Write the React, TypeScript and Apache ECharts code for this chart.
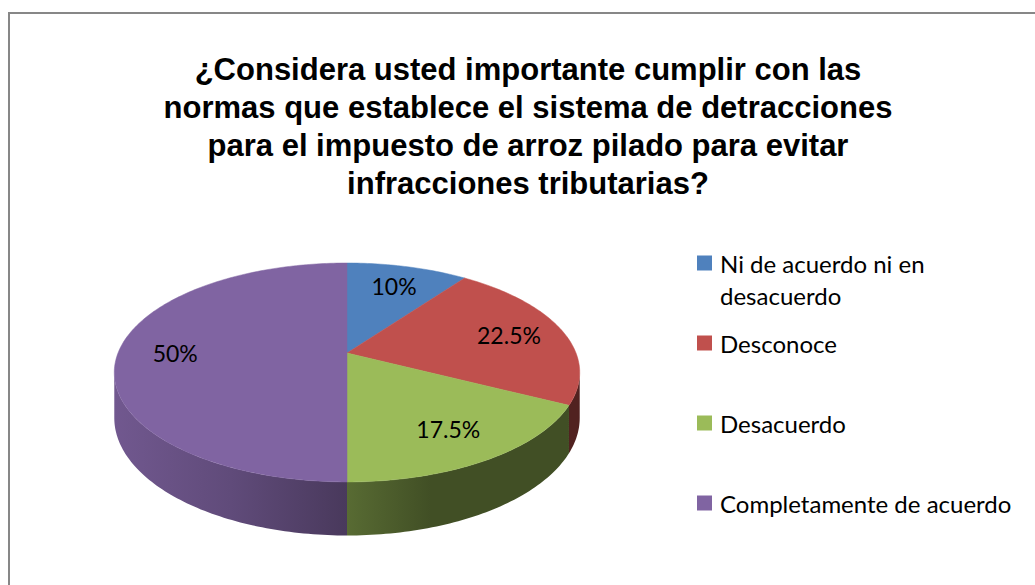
import React, { useEffect, useRef } from "react";
import * as echarts from "echarts";

const categories = [
  "Ni de acuerdo ni en desacuerdo",
  "Desconoce",
  "Desacuerdo",
  "Completamente de acuerdo",
];
const legendLabels = [
  " \nNi de acuerdo ni en\ndesacuerdo",
  "Desconoce",
  "Desacuerdo",
  "Completamente de acuerdo",
];
const values = [10, 22.5, 17.5, 50];
const colors = ["#4F81BD", "#C0504D", "#9BBB59", "#8064A2"];
const titleLines = [
  "¿Considera usted importante cumplir con las",
  "normas que establece el sistema de detracciones",
  "para el impuesto de arroz pilado para evitar",
  "infracciones tributarias?",
];

// 3D pie geometry (layout)
const CX = 347;
const CY = 353;
const RX = 229;
const RY = 106;
const K = 0.178;
const DEPTH = 44;
const LABEL_F = 0.75;

function proj(theta: number, f: number, h: number): number[] {
  const u = Math.sin(theta) * f;
  const v = Math.cos(theta) * f;
  const s = 1 / (1 + K * v);
  return [CX + RX * u * s, CY - RY * v * s + h * s];
}

function shade(hex: string, k: number): string {
  const n = parseInt(hex.slice(1), 16);
  const r = Math.round(((n >> 16) & 255) * k);
  const g = Math.round(((n >> 8) & 255) * k);
  const b = Math.round((n & 255) * k);
  return `rgb(${r},${g},${b})`;
}

const total = values.reduce((a, b) => a + b, 0);

function arcPoints(a0: number, a1: number, h: number): number[][] {
  const pts: number[][] = [];
  const steps = Math.max(2, Math.ceil(((a1 - a0) * 180) / Math.PI));
  for (let j = 0; j <= steps; j++) {
    const t = a0 + ((a1 - a0) * j) / steps;
    pts.push(proj(t, 1, h));
  }
  return pts;
}

function makeRenderItem(idx: number) {
  return (params: any, api: any) => {
    const val = api.value(0);
    let before = 0;
    for (let j = 0; j < idx; j++) before += values[j];
    const a0 = (before / total) * Math.PI * 2;
    const a1 = a0 + (val / total) * Math.PI * 2;
    const color = colors[idx];
    const children: any[] = [];

    const visA = Math.acos(-K);
    const visB = Math.PI * 2 - visA;
    const s0 = Math.max(a0, visA);
    const s1 = Math.min(a1, visB);
    if (s1 > s0) {
      const top = arcPoints(s0, s1, 0);
      const bottom = arcPoints(s0, s1, DEPTH).reverse();
      const xL = CX - RX * 1.016;
      const xR = CX + RX * 1.016;
      children.push({
        type: "polygon",
        shape: { points: top.concat(bottom) },
        style: {
          fill: {
            type: "linear",
            global: true,
            x: xL,
            y: 0,
            x2: xR,
            y2: 0,
            colorStops: [
              { offset: 0, color: shade(color, 0.88) },
              { offset: 0.25, color: shade(color, 0.75) },
              { offset: 0.5, color: shade(color, 0.57) },
              { offset: 0.68, color: shade(color, 0.42) },
              { offset: 1, color: shade(color, 0.42) },
            ],
          },
          stroke: null,
        },
      });
    }

    const topPts = [[CX, CY]].concat(arcPoints(a0, a1, 0));
    children.push({
      type: "polygon",
      shape: { points: topPts },
      style: { fill: color, stroke: color, lineWidth: 0.5 },
    });

    const mid = (a0 + a1) / 2;
    const lp = proj(mid, LABEL_F, 0);
    children.push({
      type: "text",
      x: lp[0],
      y: lp[1],
      style: {
        text: `${val}%`,
        fill: "#000",
        font: "23px Lato",
        align: "center",
        verticalAlign: "middle",
      },
      z2: 10,
    });
    return { type: "group", children };
  };
}

export default function App() {
  const ref = useRef<HTMLDivElement>(null);
  useEffect(() => {
    if (!ref.current) return;
    const chart = echarts.init(ref.current, undefined, { renderer: "svg" });
    const legendTops = [215, 327, 407, 487];
    const option: any = {
      animation: false,
      backgroundColor: "#fff",
      title: {
        text: titleLines.join("\n"),
        left: 528,
        top: 50,
        padding: 0,
        textAlign: "center",
        textStyle: {
          fontFamily: "Liberation Sans",
          fontWeight: "bold",
          fontSize: 31,
          lineHeight: 38,
          color: "#000",
        },
      },
      legend: categories.map((c, i) => ({
        data: [{ name: c }],
        formatter: () => legendLabels[i],
        orient: "vertical",
        left: 697,
        top: legendTops[i],
        padding: 0,
        itemWidth: 15,
        itemHeight: 15,
        icon: "rect",
        selectedMode: false,
        textStyle: {
          fontFamily: "Lato",
          fontSize: 24,
          lineHeight: 32,
          color: "#000",
          padding: [0, 0, 0, 3],
        },
      })),
      graphic: [
        {
          type: "rect",
          shape: { x: 9, y: 13, width: 1100, height: 700 },
          style: { fill: "none", stroke: "#878787", lineWidth: 2 },
          silent: true,
        },
      ],
      series: categories.map((c, i) => ({
        type: "custom",
        name: c,
        coordinateSystem: "none",
        itemStyle: { color: colors[i] },
        data: [[values[i]]],
        renderItem: makeRenderItem(i),
      })),
    };
    chart.setOption(option);
    return () => chart.dispose();
  }, []);
  return (
    <div
      ref={ref}
      style={{ position: "absolute", left: 0, top: 0, width: 1035, height: 585 }}
    />
  );
}
